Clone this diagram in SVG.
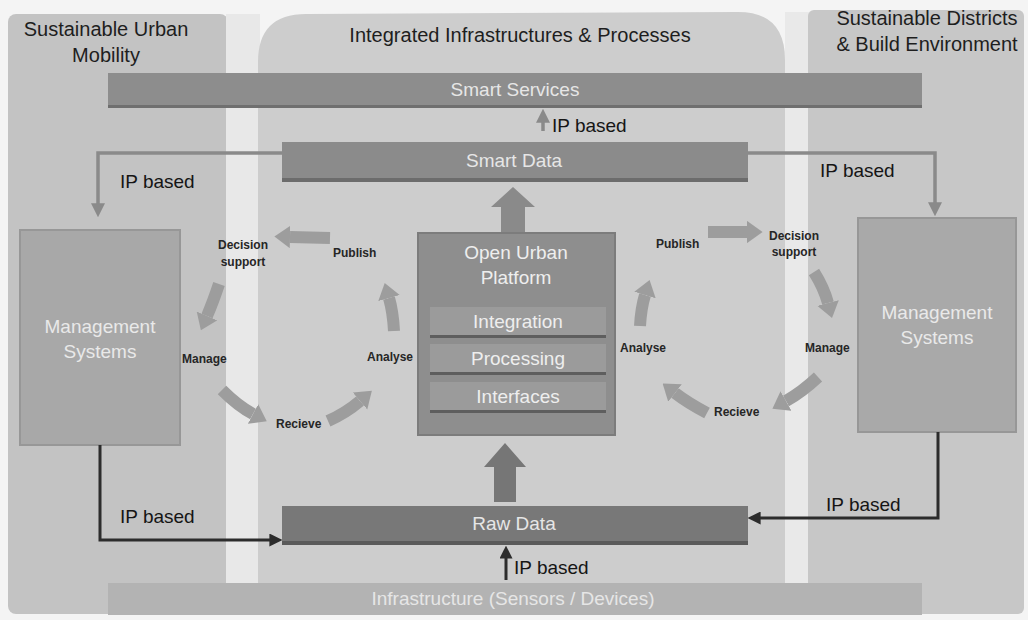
<svg xmlns="http://www.w3.org/2000/svg" width="1028" height="620" viewBox="0 0 1028 620">
<defs>
<style>
text{font-family:"Liberation Sans",Arial,sans-serif}
.title{font-size:20px;fill:#1e1e1e;text-anchor:middle}
.ip{font-size:19px;fill:#151515}
.bar{font-size:19px;fill:#e6e6e6;text-anchor:middle}
.box{font-size:19px;fill:#e9e9e9;text-anchor:middle}
.sub{font-size:19px;fill:#eeeeee;text-anchor:middle}
.cyc{font-size:12px;font-weight:bold;fill:#262626}
.gline{fill:none;stroke:#8a8a8a;stroke-width:3.5}
.dline{fill:none;stroke:#2c2c2c;stroke-width:3}
.carr{fill:none;stroke:#9d9d9d;stroke-width:12;marker-end:url(#blk)}
</style>
<marker id="blk" viewBox="0 0 7 10" refX="0" refY="5" markerWidth="1.3" markerHeight="1.9" orient="auto">
<path d="M0,0 L7,5 L0,10 z" fill="#9d9d9d"/>
</marker>
<marker id="ga" viewBox="0 0 10 10" refX="2" refY="5" markerWidth="14" markerHeight="14" markerUnits="userSpaceOnUse" orient="auto">
<path d="M0,0 L10,5 L0,10 z" fill="#8a8a8a"/>
</marker>
<marker id="da" viewBox="0 0 10 10" refX="2" refY="5" markerWidth="13" markerHeight="13" markerUnits="userSpaceOnUse" orient="auto">
<path d="M0,0 L10,5 L0,10 z" fill="#2c2c2c"/>
</marker>
</defs>

<g id="background">
<rect x="0" y="0" width="1028" height="620" fill="#f4f4f4"/>
<rect x="8" y="14" width="220" height="600" rx="8" fill="#c3c3c3"/>
<rect x="226" y="14" width="34" height="576" fill="#e8e8e8"/>
<path d="M258,590 L258,62 Q258,14 306,14 L738,12 Q785,12 785,60 L785,590 Z" fill="#cdcdcd"/>
<rect x="785" y="12" width="24" height="578" fill="#e9e9e9"/>
<rect x="808" y="10" width="216" height="604" rx="6" fill="#c7c7c7"/>
</g>

<g id="titles">
<text class="title" x="106" y="36">Sustainable Urban</text>
<text class="title" x="106" y="62">Mobility</text>
<text class="title" x="520" y="42">Integrated Infrastructures &amp; Processes</text>
<text class="title" x="927" y="25">Sustainable Districts</text>
<text class="title" x="927" y="51">&amp; Build Environment</text>
</g>

<g id="smart-services">
<rect x="108" y="76" width="814" height="32" fill="#6f6f6f"/>
<rect x="108" y="73" width="814" height="32" fill="#8d8d8d"/>
<text class="bar" x="515" y="96">Smart Services</text>
</g>

<g id="smart-data">
<rect x="282" y="145" width="466" height="37" fill="#6c6c6c"/>
<rect x="282" y="142" width="466" height="36" fill="#8b8b8b"/>
<text class="bar" x="514" y="167">Smart Data</text>
</g>

<g id="raw-data">
<rect x="282" y="509" width="466" height="36" fill="#5a5a5a"/>
<rect x="282" y="506" width="466" height="35" fill="#787878"/>
<text class="bar" x="514" y="530">Raw Data</text>
</g>

<g id="infrastructure">
<rect x="108" y="583" width="814" height="32" fill="#b3b3b3"/>
<text class="bar" x="513" y="605" fill="#f0f0f0">Infrastructure (Sensors / Devices)</text>
</g>

<g id="mgmt-left">
<rect x="20" y="230" width="160" height="215" fill="#a8a8a8" stroke="#979797" stroke-width="2"/>
<text class="box" x="100" y="333">Management</text>
<text class="box" x="100" y="358">Systems</text>
</g>

<g id="mgmt-right">
<rect x="858" y="218" width="158" height="214" fill="#a9a9a9" stroke="#979797" stroke-width="2"/>
<text class="box" x="937" y="319">Management</text>
<text class="box" x="937" y="344">Systems</text>
</g>

<g id="open-urban-platform">
<rect x="418" y="233" width="197" height="202" fill="#8e8e8e" stroke="#7c7c7c" stroke-width="2"/>
<text class="sub" x="516" y="259">Open Urban</text>
<text class="sub" x="516" y="284">Platform</text>
<g id="integration">
<rect x="430" y="310" width="176" height="28" fill="#5e5e5e"/>
<rect x="430" y="307" width="176" height="28" fill="#9b9b9b"/>
<text class="sub" x="518" y="328">Integration</text>
</g>
<g id="processing">
<rect x="430" y="347" width="176" height="28" fill="#5e5e5e"/>
<rect x="430" y="344" width="176" height="28" fill="#9b9b9b"/>
<text class="sub" x="518" y="365">Processing</text>
</g>
<g id="interfaces">
<rect x="430" y="385" width="176" height="28" fill="#5e5e5e"/>
<rect x="430" y="382" width="176" height="28" fill="#9b9b9b"/>
<text class="sub" x="518" y="403">Interfaces</text>
</g>
</g>

<g id="cycle-labels">
<text class="cyc" x="243" y="249" text-anchor="middle">Decision</text>
<text class="cyc" x="243" y="266" text-anchor="middle">support</text>
<text class="cyc" x="333" y="257">Publish</text>
<text class="cyc" x="182" y="363">Manage</text>
<text class="cyc" x="367" y="361">Analyse</text>
<text class="cyc" x="276" y="428">Recieve</text>
<text class="cyc" x="656" y="248">Publish</text>
<text class="cyc" x="794" y="240" text-anchor="middle">Decision</text>
<text class="cyc" x="794" y="256" text-anchor="middle">support</text>
<text class="cyc" x="805" y="352">Manage</text>
<text class="cyc" x="620" y="352">Analyse</text>
<text class="cyc" x="714" y="416">Recieve</text>
</g>

<g id="connectors">
<!-- cycle arrows left -->
<path class="carr" d="M330,238 L290,237"/>
<path class="carr" d="M219,284 Q213,302 207,316"/>
<path class="carr" d="M222,390 Q238,406 253,414"/>
<path class="carr" d="M328,421 Q346,413 360,401"/>
<path class="carr" d="M394,331 Q393,312 389,298"/>
<!-- cycle arrows right -->
<path class="carr" d="M708,232 L747,232"/>
<path class="carr" d="M814,272 Q824,288 828,303"/>
<path class="carr" d="M818,377 Q802,392 786,401"/>
<path class="carr" d="M707,413 Q688,403 675,393"/>
<path class="carr" d="M640,326 Q641,308 645,295"/>

<!-- block arrows -->
<polygon points="501,232 525,232 525,207 535,207 513,187 491,207 501,207" fill="#8a8a8a"/>
<polygon points="494,502 516,502 516,467 526,467 505,443 484,467 494,467" fill="#767676"/>

<!-- IP based connectors -->
<path class="gline" d="M543,131 L543,120" marker-end="url(#ga)"/>
<path class="gline" d="M282,153 L98,153 L98,206" marker-end="url(#ga)"/>
<path class="gline" d="M748,153 L935,153 L935,205" marker-end="url(#ga)"/>
<path class="dline" d="M100,445 L100,540 L272,540" marker-end="url(#da)"/>
<path class="dline" d="M938,432 L938,518 L758,518" marker-end="url(#da)"/>
<path class="dline" d="M506,580 L506,556" marker-end="url(#da)"/>
</g>

<g id="ip-labels">
<text class="ip" x="552" y="132">IP based</text>
<text class="ip" x="120" y="188">IP based</text>
<text class="ip" x="820" y="177">IP based</text>
<text class="ip" x="120" y="523">IP based</text>
<text class="ip" x="826" y="511">IP based</text>
<text class="ip" x="514" y="574">IP based</text>
</g>
</svg>
